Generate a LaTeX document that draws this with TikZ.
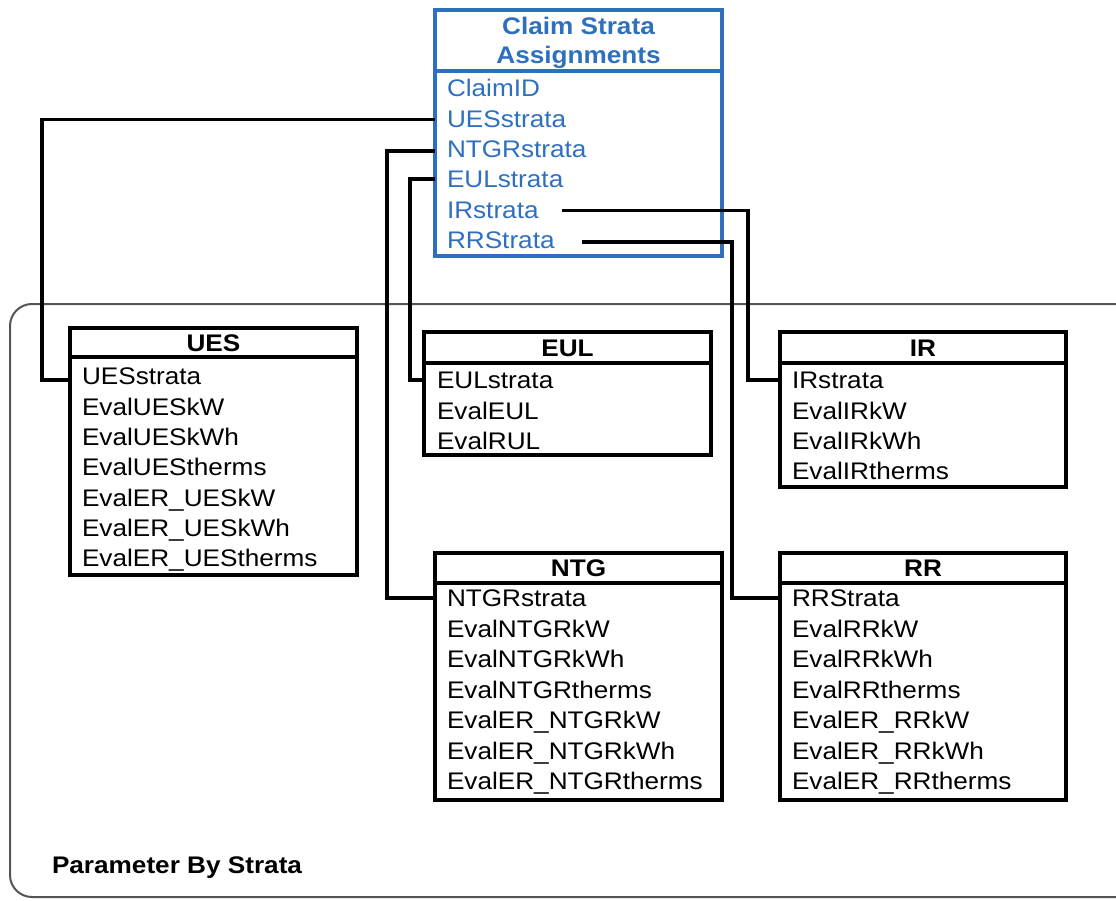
\documentclass[tikz,border=0pt]{standalone}
\usepackage{fontspec}
\setmainfont{Liberation Sans}
\usepackage{graphicx}
\definecolor{cblue}{RGB}{46,112,190}
\definecolor{framegray}{RGB}{85,85,85}
\newcommand\sx[1]{\scalebox{1.09}[1]{#1}}
\begin{document}
\begin{tikzpicture}[x=1pt,y=-1pt,
  hdr/.style={draw, line width=3.8pt, anchor=north west, inner sep=0pt, outer sep=0pt,
    minimum height=30pt, font=\fontsize{24}{29}\selectfont\bfseries, align=center,
    text height=17.3pt, text depth=0pt},
  bodybox/.style={draw, line width=3.8pt, anchor=north west, inner sep=0pt, outer sep=0pt},
  row/.style={anchor=west, inner sep=0pt, outer sep=0pt, text height=17.3pt, text depth=0pt,
    font=\fontsize{24}{29}\selectfont},
  conn/.style={draw=black, line width=3.6pt},
  outerframe/.style={draw=framegray, line width=2pt, rounded corners=22pt}]
\useasboundingbox (0,0) rectangle (1116,901);
% outer frame
\begin{scope}
  \clip (0,0) rectangle (1116,901);
  \draw[outerframe] (10,304) rectangle (1140,897);
\end{scope}
\node[row, font=\fontsize{24}{29}\selectfont\bfseries] (lbl) at (52,865) {\sx{Parameter By Strata}};

% Claim Strata Assignments
\node[hdr, draw=cblue, text=cblue, line width=3.4pt, minimum width=287pt, minimum height=61pt, text height=, text depth=0pt] (claimh) at (435,10) {\sx{Claim Strata}\\\sx{Assignments}};
\node[bodybox, draw=cblue, line width=3.4pt, minimum width=287pt, minimum height=185pt] (claimb) at (claimh.south west) {};
\foreach \nm [count=\k] in {ClaimID,UESstrata,NTGRstrata,EULstrata,IRstrata,RRStrata}
  \node[row, text=cblue] (c\k) at (447,{88+30.4*(\k-1)}) {\sx{\nm}};

% UES
\node[hdr, minimum width=287pt, minimum height=29pt] (uesh) at (70,328) {\sx{UES}};
\node[bodybox, minimum width=287pt, minimum height=218pt] (uesb) at (uesh.south west) {};
\foreach \nm [count=\k] in {UESstrata,EvalUESkW,EvalUESkWh,EvalUEStherms,EvalER\_UESkW,EvalER\_UESkWh,EvalER\_UEStherms}
  \node[row] (u\k) at (82,{376+30.35*(\k-1)}) {\sx{\nm}};

% EUL
\node[hdr, minimum width=287pt, minimum height=31pt] (eulh) at (424,332) {\sx{EUL}};
\node[bodybox, minimum width=287pt, minimum height=92pt] (eulb) at (eulh.south west) {};
\foreach \nm [count=\k] in {EULstrata,EvalEUL,EvalRUL}
  \node[row] (e\k) at (437,{380+30.4*(\k-1)}) {\sx{\nm}};

% IR
\node[hdr, minimum width=286pt, minimum height=31pt] (irh) at (780,332) {\sx{IR}};
\node[bodybox, minimum width=286pt, minimum height=124pt] (irb) at (irh.south west) {};
\foreach \nm [count=\k] in {IRstrata,EvalIRkW,EvalIRkWh,EvalIRtherms}
  \node[row] (i\k) at (792,{380+30.4*(\k-1)}) {\sx{\nm}};

% NTG
\node[hdr, minimum width=287pt, minimum height=30pt] (ntgh) at (435,553) {\sx{NTG}};
\node[bodybox, minimum width=287pt, minimum height=217pt] (ntgb) at (ntgh.south west) {};
\foreach \nm [count=\k] in {NTGRstrata,EvalNTGRkW,EvalNTGRkWh,EvalNTGRtherms,EvalER\_NTGRkW,EvalER\_NTGRkWh,EvalER\_NTGRtherms}
  \node[row] (n\k) at (447,{598+30.55*(\k-1)}) {\sx{\nm}};

% RR
\node[hdr, minimum width=286pt, minimum height=30pt] (rrh) at (780,553) {\sx{RR}};
\node[bodybox, minimum width=286pt, minimum height=217pt] (rrb) at (rrh.south west) {};
\foreach \nm [count=\k] in {RRStrata,EvalRRkW,EvalRRkWh,EvalRRtherms,EvalER\_RRkW,EvalER\_RRkWh,EvalER\_RRtherms}
  \node[row] (r\k) at (792,{598+30.55*(\k-1)}) {\sx{\nm}};

% connector channels
\coordinate (vU) at (42,0);
\coordinate (vN) at (387,0);
\coordinate (vE) at (410,0);
\coordinate (vI) at (748,0);
\coordinate (vR) at (732,0);
% end points
\coordinate (sU) at ([yshift=-1pt]claimb.west |- c2.west);
\coordinate (tU) at ([yshift=-4pt]uesb.west |- u1.west);
\coordinate (sN) at ([yshift=-2pt]claimb.west |- c3.west);
\coordinate (tN) at (ntgb.west |- n1.west);
\coordinate (sE) at (claimb.west |- c4.west);
\coordinate (tE) at (eulb.west |- e1.west);
\coordinate (sI) at ([xshift=23pt,yshift=-1pt]c5.east);
\coordinate (tI) at (irb.west |- i1.west);
\coordinate (sR) at ([xshift=27pt,yshift=-2pt]c6.east);
\coordinate (tR) at (rrb.west |- r1.west);

\draw[conn] (sU) -| (vU |- tU) -- (tU);
\draw[conn] (sN) -| (vN |- tN) -- (tN);
\draw[conn] (sE) -| (vE |- tE) -- (tE);
\draw[conn] (sI) -| (vI |- tI) -- (tI);
\draw[conn] (sR) -| (vR |- tR) -- (tR);
\end{tikzpicture}
\end{document}
